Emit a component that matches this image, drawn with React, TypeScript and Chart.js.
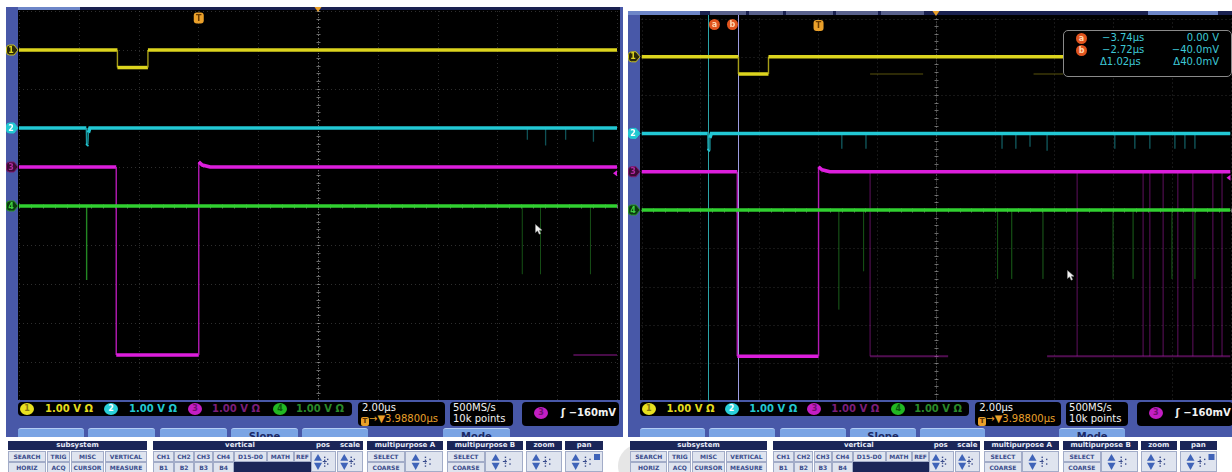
import React, { useEffect, useRef } from "react";
import { Chart, registerables } from "chart.js";

Chart.register(...registerables);

// ---------- acquisition settings (shared by both captures) ----------
const TIME_PER_DIV_US = 2.0;
const TRIGGER_TO_CENTER_US = 3.988;
const H_DIVS = 10;
const V_DIVS = 10;
const T_CENTER = TRIGGER_TO_CENTER_US;
const T_MIN = T_CENTER - (H_DIVS / 2) * TIME_PER_DIV_US;
const T_MAX = T_CENTER + (H_DIVS / 2) * TIME_PER_DIV_US;

const CHANNEL_NAMES = ["1", "2", "3", "4"];
const VOLTS_PER_DIV = [1.0, 1.0, 1.0, 1.0];
const CH_POSITION_DIV = [4, 2, 1, 0];
const TRIGGER_CHANNEL = 2; // CH3
const TRIGGER_LEVEL_V = -0.16;
const SAMPLE_RATE_LABEL = "500MS/s";
const RECORD_LENGTH_LABEL = "10k points";

// ---------- main waveforms: vertices (µs from trigger, volts) ----------
const CH1_TIMES_US = [-2.72, -2.72, -1.7, -1.7];
const CH1_VOLTS = [0, -0.45, -0.45, 0];
const CH2_TIMES_US = [-3.76, -3.75, -3.71, -3.69, -3.64];
const CH2_VOLTS = [0, -0.45, -0.42, -0.12, 0];
const CH3_TIMES_US = [-2.76, -2.76, 0, 0, 0.12, 0.38];
const CH3_VOLTS = [0, -4.82, -4.82, 0.13, 0.05, 0];
const CH4_TIMES_US = [0];
const CH4_VOLTS = [0];

// ---------- first capture: extra glitches ----------
const L_CH2_GLITCH_US = [10.99, 11.6, 12.27, 13.2];
const L_CH2_GLITCH_V = [-0.3, -0.45, -0.3, -0.35];
const L_CH4_GLITCH_US = [-3.75, 10.82, 11.43, 13.1];
const L_CH4_GLITCH_V = [-1.9, -1.75, -1.75, -1.75];
const L_CH3_LOW_FROM_US = [12.53];
const L_CH3_LOW_TO_US = [13.99];

// ---------- second capture: persistence + cursors ----------
const R_CH2_GLITCH_US = [0.79, 1.61, 6.23, 6.7, 7.18, 7.76, 10.06, 10.74, 11.25, 12.1, 12.44, 12.78];
const R_CH2_GLITCH_V = [-0.4, -0.4, -0.4, -0.4, -0.35, -0.45, -0.4, -0.4, -0.4, -0.4, -0.4, -0.4];
const R_CH4_GLITCH_US = [0.69, 1.53, 6.08, 6.56, 7.62, 10.0, 10.68, 12.0, 12.78];
const R_CH4_GLITCH_V = [-2.6, -1.6, -1.8, -1.8, -1.8, -1.8, -1.8, -1.8, -1.8];
const R_CH3_EDGE_US = [1.75, 8.78, 11.02, 11.25, 11.7, 12.2, 12.71, 13.39, 13.7];
const R_CH3_LOW_FROM_US = [1.75, 7.76];
const R_CH3_LOW_TO_US = [4.4, 13.99];
const R_CH1_DIP_FROM_US = [1.75, 7.3];
const R_CH1_DIP_TO_US = [3.55, 8.3];

const CURSOR_NAMES = ["a", "b"];
const CURSOR_TIMES_US = [-3.74, -2.72];
const CURSOR_VOLTS = [0.0, -0.04];

// ---------- colours ----------
const CH_COLOR = ["#dcd41e", "#22c8d4", "#dc1edc", "#30d030"];
const CH_EDGE = ["#a69e18", "#1a9aa2", "#b41ab4", "#24a424"];
const CH_TEXT = ["#e4dc1e", "#22c8d2", "#7c1e7a", "#2a8a2a"];
const BADGE_FILL = ["#e8e020", "#2ad0da", "#c41ec4", "#22b822"];
const BADGE_TEXT = ["#8a7a10", "#ffffff", "#701070", "#0a5a0a"];
const TAG_FILL = ["#2a280a", "#22c8d2", "#3a0b33", "#0b3a10"];
const TAG_EDGE = ["#c8c020", "#22c8d2", "#801a70", "#2a9a2a"];
const TAG_TEXT = ["#e0d820", "#ffffff", "#b02aa0", "#40d040"];
const CURSOR_COLOR = ["#2aa4a8", "#9c9ce0"];
const ORANGE = "#eaa02a";
const FRAME_BLUE = "#4858a8";
const NAVY = "#1b2658";
const BTN_BG = "#dfe4ef";
const BTN_TX = "#3a4c8c";
const FONT = "'DejaVu Sans', sans-serif";

type Pt = { x: number; y: number | null };

const toDiv = (ch: number, v: number) => CH_POSITION_DIV[ch] + v / VOLTS_PER_DIV[ch];

function stepTrace(ch: number, times: number[], volts: number[]): Pt[] {
  const pts: Pt[] = [{ x: T_MIN, y: toDiv(ch, volts[0]) }];
  times.forEach((t, i) => pts.push({ x: t, y: toDiv(ch, volts[i]) }));
  pts.push({ x: T_MAX, y: toDiv(ch, volts[volts.length - 1]) });
  return pts;
}

function spikes(ch: number, times: number[], depths: number[]): Pt[] {
  const out: Pt[] = [];
  times.forEach((t, i) => {
    out.push({ x: t, y: toDiv(ch, 0) }, { x: t, y: toDiv(ch, depths[i]) }, { x: t, y: null });
  });
  return out;
}

function spans(ch: number, from: number[], to: number[], v: number): Pt[] {
  const out: Pt[] = [];
  from.forEach((f, i) => {
    out.push({ x: f, y: toDiv(ch, v) }, { x: to[i], y: toDiv(ch, v) }, { x: to[i], y: null });
  });
  return out;
}

function traceDataset(ch: number, data: Pt[]) {
  return {
    data,
    borderColor: CH_COLOR[ch],
    borderWidth: 3.5,
    pointRadius: 0,
    tension: 0,
    segment: {
      borderWidth: (c: any) => (Math.abs(c.p0.x - c.p1.x) < 1 ? 1.4 : 3.5),
      borderColor: (c: any) => (Math.abs(c.p0.x - c.p1.x) < 1 ? CH_EDGE[ch] : CH_COLOR[ch]),
    },
  };
}

function faintDataset(data: Pt[], color: string, width: number) {
  return { data, borderColor: color, borderWidth: width, pointRadius: 0, tension: 0, spanGaps: false };
}

const LOW_LEVEL_CH3 = CH3_VOLTS[1];
const DIP_LEVEL_CH1 = CH1_VOLTS[1];

// first dataset is drawn on top
function leftDatasets() {
  return [
    traceDataset(3, stepTrace(3, CH4_TIMES_US, CH4_VOLTS)),
    traceDataset(0, stepTrace(0, CH1_TIMES_US, CH1_VOLTS)),
    traceDataset(1, stepTrace(1, CH2_TIMES_US, CH2_VOLTS)),
    traceDataset(2, stepTrace(2, CH3_TIMES_US, CH3_VOLTS)),
    faintDataset(spikes(1, L_CH2_GLITCH_US, L_CH2_GLITCH_V), "rgba(34,180,190,0.45)", 1.3),
    faintDataset(spikes(3, L_CH4_GLITCH_US.slice(0, 1), L_CH4_GLITCH_V.slice(0, 1)), "rgba(44,170,44,0.8)", 1.4),
    faintDataset(spikes(3, L_CH4_GLITCH_US.slice(1), L_CH4_GLITCH_V.slice(1)), "rgba(44,150,44,0.22)", 1),
    faintDataset(spans(2, L_CH3_LOW_FROM_US, L_CH3_LOW_TO_US, LOW_LEVEL_CH3), "rgba(180,30,180,0.4)", 2),
  ];
}

function rightDatasets() {
  return [
    traceDataset(3, stepTrace(3, CH4_TIMES_US, CH4_VOLTS)),
    traceDataset(0, stepTrace(0, CH1_TIMES_US, CH1_VOLTS)),
    traceDataset(1, stepTrace(1, CH2_TIMES_US, CH2_VOLTS)),
    traceDataset(2, stepTrace(2, CH3_TIMES_US, CH3_VOLTS)),
    faintDataset(spikes(1, R_CH2_GLITCH_US, R_CH2_GLITCH_V), "rgba(34,180,190,0.5)", 1.3),
    faintDataset(spikes(3, R_CH4_GLITCH_US, R_CH4_GLITCH_V), "rgba(44,150,44,0.25)", 1),
    faintDataset(spikes(2, R_CH3_EDGE_US, R_CH3_EDGE_US.map(() => LOW_LEVEL_CH3)), "rgba(170,30,170,0.22)", 1),
    faintDataset(spans(2, R_CH3_LOW_FROM_US, R_CH3_LOW_TO_US, LOW_LEVEL_CH3), "rgba(180,30,180,0.45)", 2),
    faintDataset(spans(0, R_CH1_DIP_FROM_US, R_CH1_DIP_TO_US, DIP_LEVEL_CH1), "rgba(150,142,20,0.4)", 1.5),
  ];
}

type Rect = { x: number; y: number; w: number; h: number };
type PanelSpec = {
  id: string;
  canvas: Rect;
  pad: { left: number; right: number; top: number; bottom: number };
  black: Rect; // canvas coordinates
  topBar: [number, number, string][];
  cursors: boolean;
  datasets: () => any[];
};

const LEFT_SPEC: PanelSpec = {
  id: "left",
  canvas: { x: 6, y: 7, w: 617, h: 394 },
  pad: { left: 13, right: 6, top: 4, bottom: 0 },
  black: { x: 12, y: 3, w: 602, h: 390 },
  topBar: [[12, 614, "#1a2150"], [12, 74, "#6d86c8"]],
  cursors: false,
  datasets: leftDatasets,
};

const RIGHT_SPEC: PanelSpec = {
  id: "right",
  canvas: { x: 628, y: 11, w: 604, h: 391 },
  pad: { left: 13.5, right: 1.5, top: 7.5, bottom: 0.5 },
  black: { x: 12, y: 4, w: 592, h: 385 },
  topBar: [
    [12, 604, "#1a2150"], [0, 72, "#6d86c8"], [82, 118, "#59618c"], [121, 155, "#59618c"],
    [158, 205, "#59618c"], [208, 250, "#59618c"], [253, 296, "#59618c"], [520, 590, "#6d86c8"],
  ],
  cursors: true,
  datasets: rightDatasets,
};

function tagPath(ctx: CanvasRenderingContext2D, x0: number, x1: number, y: number) {
  const h = 5;
  ctx.beginPath();
  ctx.moveTo(x0 + 3, y - h);
  ctx.lineTo(x1 - 4, y - h);
  ctx.lineTo(x1, y);
  ctx.lineTo(x1 - 4, y + h);
  ctx.lineTo(x0 + 3, y + h);
  ctx.quadraticCurveTo(x0, y + h, x0, y + h - 3);
  ctx.lineTo(x0, y - h + 3);
  ctx.quadraticCurveTo(x0, y - h, x0 + 3, y - h);
  ctx.closePath();
}

function screenPlugin(spec: PanelSpec) {
  return {
    id: "screen_" + spec.id,
    beforeDraw(chart: any) {
      const ctx: CanvasRenderingContext2D = chart.ctx;
      const b = spec.black;
      ctx.save();
      ctx.fillStyle = "#000";
      ctx.fillRect(b.x, b.y, b.w, b.h);
      spec.topBar.forEach(([x0, x1, c]) => {
        ctx.fillStyle = c;
        ctx.fillRect(x0, 0, x1 - x0, b.y);
      });
      ctx.restore();
    },
    beforeDatasetsDraw(chart: any) {
      const ctx: CanvasRenderingContext2D = chart.ctx;
      const a = chart.chartArea;
      const xs = chart.scales.x;
      const ys = chart.scales.y;
      ctx.save();
      ctx.lineWidth = 1;
      ctx.strokeStyle = "rgba(110,110,110,0.42)";
      ctx.setLineDash([1, 3]);
      for (let i = 0; i <= H_DIVS; i++) {
        const px = Math.round(xs.getPixelForValue(T_MIN + i * TIME_PER_DIV_US)) + 0.5;
        ctx.beginPath();
        ctx.moveTo(px, a.top);
        ctx.lineTo(px, a.bottom);
        ctx.stroke();
      }
      for (let j = 0; j <= V_DIVS; j++) {
        const py = Math.round(ys.getPixelForValue(-V_DIVS / 2 + j)) + 0.5;
        ctx.beginPath();
        ctx.moveTo(a.left, py);
        ctx.lineTo(a.right, py);
        ctx.stroke();
      }
      // centre axes with minor ticks
      const cx = Math.round(xs.getPixelForValue(T_CENTER)) + 0.5;
      const cy = Math.round(ys.getPixelForValue(0)) + 0.5;
      ctx.strokeStyle = "rgba(160,160,160,0.65)";
      ctx.setLineDash([1, 2]);
      ctx.beginPath();
      ctx.moveTo(cx, a.top);
      ctx.lineTo(cx, a.bottom);
      ctx.moveTo(a.left, cy);
      ctx.lineTo(a.right, cy);
      ctx.stroke();
      ctx.setLineDash([]);
      ctx.beginPath();
      for (let k = 0; k <= H_DIVS * 5; k++) {
        const px = Math.round(xs.getPixelForValue(T_MIN + (k * TIME_PER_DIV_US) / 5)) + 0.5;
        ctx.moveTo(px, cy - 2);
        ctx.lineTo(px, cy + 2);
      }
      for (let k = 0; k <= V_DIVS * 5; k++) {
        const py = Math.round(ys.getPixelForValue(-V_DIVS / 2 + k / 5)) + 0.5;
        ctx.moveTo(cx - 2, py);
        ctx.lineTo(cx + 2, py);
      }
      ctx.stroke();
      // vertical bar cursors
      if (spec.cursors) {
        CURSOR_TIMES_US.forEach((t, i) => {
          const px = Math.round(xs.getPixelForValue(t)) + 0.5;
          ctx.strokeStyle = CURSOR_COLOR[i];
          ctx.lineWidth = 1;
          ctx.beginPath();
          ctx.moveTo(px, spec.black.y);
          ctx.lineTo(px, a.bottom);
          ctx.stroke();
        });
      }
      ctx.restore();
    },
    afterDatasetsDraw(chart: any) {
      const ctx: CanvasRenderingContext2D = chart.ctx;
      const a = chart.chartArea;
      const xs = chart.scales.x;
      const ys = chart.scales.y;
      ctx.save();
      ctx.textAlign = "center";
      ctx.textBaseline = "middle";
      // ground level tags
      CHANNEL_NAMES.forEach((n, ch) => {
        const y = ys.getPixelForValue(CH_POSITION_DIV[ch]);
        tagPath(ctx, 0.5, spec.black.x, y);
        ctx.fillStyle = TAG_FILL[ch];
        ctx.fill();
        ctx.strokeStyle = TAG_EDGE[ch];
        ctx.lineWidth = 1;
        ctx.stroke();
        ctx.fillStyle = TAG_TEXT[ch];
        ctx.font = "bold 8px " + FONT;
        ctx.fillText(n, spec.black.x / 2 - 1, y + 0.5);
      });
      // trigger position marker
      const tx = xs.getPixelForValue(0);
      const ty = a.top + 7;
      ctx.fillStyle = ORANGE;
      ctx.beginPath();
      ctx.roundRect(tx - 5, ty - 5.5, 10, 11, 3);
      ctx.fill();
      ctx.fillStyle = "#6a3a00";
      ctx.font = "bold 8px " + FONT;
      ctx.fillText("T", tx, ty + 0.5);
      // expansion point at screen centre
      const cx = xs.getPixelForValue(T_CENTER);
      ctx.fillStyle = ORANGE;
      ctx.beginPath();
      ctx.moveTo(cx - 3.5, 0);
      ctx.lineTo(cx + 3.5, 0);
      ctx.lineTo(cx, 5);
      ctx.closePath();
      ctx.fill();
      // trigger level arrow on the right edge
      const ly = ys.getPixelForValue(toDiv(TRIGGER_CHANNEL, TRIGGER_LEVEL_V));
      ctx.fillStyle = CH_COLOR[TRIGGER_CHANNEL];
      ctx.beginPath();
      ctx.moveTo(a.right - 4, ly);
      ctx.lineTo(a.right, ly - 3);
      ctx.lineTo(a.right, ly + 3);
      ctx.closePath();
      ctx.fill();
      // cursor labels
      if (spec.cursors) {
        CURSOR_TIMES_US.forEach((t, i) => {
          const px = xs.getPixelForValue(t) + (i === 0 ? 6 : -6);
          const py = a.top + 6;
          ctx.fillStyle = "#e0541e";
          ctx.beginPath();
          ctx.arc(px, py, 5.5, 0, Math.PI * 2);
          ctx.fill();
          ctx.fillStyle = "#ffd6b0";
          ctx.font = "bold 8px " + FONT;
          ctx.fillText(CURSOR_NAMES[i], px, py);
        });
      }
      ctx.restore();
    },
  };
}

function ScopeChart({ spec }: { spec: PanelSpec }) {
  const ref = useRef<HTMLCanvasElement>(null);
  useEffect(() => {
    if (!ref.current) return;
    const chart = new Chart(ref.current, {
      type: "line",
      data: { datasets: spec.datasets() as any },
      options: {
        animation: false,
        responsive: false,
        maintainAspectRatio: false,
        events: [],
        layout: { padding: spec.pad },
        plugins: { legend: { display: false }, tooltip: { enabled: false } },
        scales: {
          x: { type: "linear", display: false, min: T_MIN, max: T_MAX },
          y: { type: "linear", display: false, min: -V_DIVS / 2, max: V_DIVS / 2 },
        },
      },
      plugins: [screenPlugin(spec)],
    } as any);
    return () => chart.destroy();
  }, [spec]);
  const c = spec.canvas;
  return (
    <canvas
      ref={ref}
      width={c.w}
      height={c.h}
      style={{ position: "absolute", left: c.x, top: c.y, width: c.w, height: c.h }}
    />
  );
}

// ---------- DOM parts of the instrument UI ----------
function Abs({ x, y, w, h, style, children }: any) {
  return (
    <div style={{ position: "absolute", left: x, top: y, width: w, height: h, boxSizing: "border-box", ...style }}>
      {children}
    </div>
  );
}

function Badge({ cx, cy, ch }: { cx: number; cy: number; ch: number }) {
  return (
    <Abs
      x={cx - 7}
      y={cy - 6}
      w={14}
      h={12}
      style={{
        borderRadius: "50%",
        background: BADGE_FILL[ch],
        color: BADGE_TEXT[ch],
        font: "bold 8px " + FONT,
        lineHeight: "12px",
        textAlign: "center",
      }}
    >
      {CHANNEL_NAMES[ch]}
    </Abs>
  );
}

const fmtTime = (t: number) => (t < 0 ? "\u2212" : "") + Math.abs(t).toFixed(2) + "\u00b5s";
const fmtVolt = (v: number) =>
  v === 0 ? "0.00 V" : (v < 0 ? "\u2212" : "") + (Math.abs(v) * 1000).toFixed(1) + "mV";
const fmtTrigLevel = (v: number) => (v < 0 ? "\u2212" : "") + Math.round(Math.abs(v) * 1000) + "mV";

type Console = { X: (x: number) => number };

const SUBSYSTEM_R1 = ["SEARCH", "TRIG", "MISC", "VERTICAL"];
const SUBSYSTEM_R2 = ["HORIZ", "ACQ", "CURSOR", "MEASURE"];
const VERTICAL_R1 = ["CH1", "CH2", "CH3", "CH4", "D15-D0", "MATH", "REF"];
const VERTICAL_R2 = ["B1", "B2", "B3", "B4"];

function Cell({ X, x0, x1, y, h, label, navy }: any) {
  return (
    <Abs
      x={X(x0)}
      y={y}
      w={X(x1) - X(x0)}
      h={h}
      style={{
        background: navy ? NAVY : BTN_BG,
        border: navy ? "none" : "1px solid #a2acc8",
        color: BTN_TX,
        font: "bold 6px " + FONT,
        lineHeight: h - 2 + "px",
        textAlign: "center",
        whiteSpace: "nowrap",
        overflow: "hidden",
      }}
    >
      {label}
    </Abs>
  );
}

function Header({ X, x0, x1, children }: any) {
  return (
    <Abs
      x={X(x0)}
      y={441}
      w={X(x1) - X(x0)}
      h={9}
      style={{ background: NAVY, color: "#e8ecf8", font: "bold 7px " + FONT, lineHeight: "9px", textAlign: "center", whiteSpace: "nowrap" }}
    >
      {children}
    </Abs>
  );
}

function ArrowPad({ X, x0, x1, square }: any) {
  const x = X(x0);
  const w = X(x1) - X(x0);
  const h = 21;
  const ax = w * 0.28;
  return (
    <Abs x={x} y={451} w={w} h={h} style={{ background: BTN_BG, border: "1px solid #a2acc8" }}>
      <svg width={w} height={h} style={{ position: "absolute", left: -1, top: -1 }}>
        <polygon points={`${ax - 4},${h * 0.46} ${ax + 4},${h * 0.46} ${ax},${h * 0.14}`} fill="#3f63b8" />
        <polygon points={`${ax - 4},${h * 0.56} ${ax + 4},${h * 0.56} ${ax},${h * 0.9}`} fill="#3f63b8" />
        {[0.3, 0.44, 0.58, 0.72].map((f) => (
          <rect key={f} x={w * 0.52} y={h * f - 0.7} width={1.4} height={1.4} fill="#3a4c8c" />
        ))}
        {[0.4, 0.62].map((f) => (
          <rect key={f} x={w * 0.64} y={h * f - 0.7} width={1.4} height={1.4} fill="#3a4c8c" />
        ))}
        <rect x={w * 0.47} y={h * 0.5 - 0.5} width={4} height={1} fill="#3a4c8c" />
        {square ? <rect x={w - 9} y={3} width={6} height={6} fill="#3f63b8" /> : null}
      </svg>
    </Abs>
  );
}

function Panel({ X }: Console) {
  const chBadge = [27, 111, 195, 280];
  const chText = [45, 129, 212, 296];
  const tabs: [number, number, string][] = [
    [18, 84, ""], [88, 155, ""], [160, 227, ""], [231, 298, "Slope"], [302, 368, ""], [443, 510, "Mode"],
  ];
  const sub = [[8, 46], [47, 70], [71, 104], [105, 147]];
  const vert = [[153, 174], [174, 194], [194, 213], [213, 234], [234, 267], [267, 294], [294, 311]];
  const textBase = { position: "absolute" as const, whiteSpace: "nowrap" as const };
  return (
    <>
      {/* status row */}
      <Abs x={X(18)} y={402} w={X(352) - X(18)} h={14} style={{ background: "#000", borderRadius: 4 }} />
      {CHANNEL_NAMES.map((n, i) => (
        <React.Fragment key={n}>
          <Badge cx={X(chBadge[i])} cy={409} ch={i} />
          <div style={{ ...textBase, left: X(chText[i]), top: 402, color: CH_TEXT[i], font: "bold 10px " + FONT, lineHeight: "14px" }}>
            {VOLTS_PER_DIV[i].toFixed(2)} V {"\u03a9"}
          </div>
        </React.Fragment>
      ))}
      <Abs x={X(358)} y={402} w={X(445) - X(358)} h={24} style={{ background: "#000", borderRadius: 4 }} />
      <div style={{ ...textBase, left: X(362), top: 402, color: "#f2f2f2", font: "10px " + FONT, lineHeight: "11px" }}>
        {TIME_PER_DIV_US.toFixed(2)}
        {"\u00b5s"}
      </div>
      <div style={{ ...textBase, left: X(361), top: 413, color: ORANGE, font: "10px " + FONT, lineHeight: "12px" }}>
        <span style={{ display: "inline-block", width: 8, height: 9, background: ORANGE, color: "#5a3000", font: "bold 7px " + FONT, lineHeight: "9px", textAlign: "center", borderRadius: 2, verticalAlign: "-1px" }}>T</span>
        {"\u2192\u25bc"}
        {TRIGGER_TO_CENTER_US.toFixed(5)}
        {"\u00b5s"}
      </div>
      <Abs x={X(450)} y={402} w={X(513) - X(450)} h={24} style={{ background: "#000", borderRadius: 4 }} />
      <div style={{ ...textBase, left: X(453), top: 402, color: "#f2f2f2", font: "10px " + FONT, lineHeight: "11px" }}>
        {SAMPLE_RATE_LABEL}
      </div>
      <div style={{ ...textBase, left: X(453), top: 413, color: "#f2f2f2", font: "10px " + FONT, lineHeight: "12px" }}>
        {RECORD_LENGTH_LABEL}
      </div>
      <Abs x={X(522)} y={402} w={X(619) - X(522)} h={24} style={{ background: "#000", borderRadius: 4 }} />
      <Badge cx={X(541)} cy={413} ch={TRIGGER_CHANNEL} />
      <div style={{ ...textBase, left: X(561), top: 407, color: "#f2f2f2", font: "bold 10px " + FONT, lineHeight: "12px" }}>
        {"\u0283 "}
        {fmtTrigLevel(TRIGGER_LEVEL_V)}
      </div>
      {/* soft-key tabs, cut by the bezel */}
      {tabs.map(([a, b, label]) => (
        <Abs
          key={a}
          x={X(a)}
          y={428}
          w={X(b) - X(a)}
          h={9}
          style={{
            background: "#7aa4e4",
            borderTop: "1px solid #b4cdf4",
            borderRadius: "3px 3px 0 0",
            overflow: "hidden",
            color: "#1c2a66",
            font: "bold 10px " + FONT,
            textAlign: "center",
            lineHeight: "16px",
          }}
        >
          {label}
        </Abs>
      ))}
      {/* button groups */}
      <Header X={X} x0={8} x1={147}>subsystem</Header>
      {sub.map(([a, b], i) => (
        <React.Fragment key={a}>
          <Cell X={X} x0={a} x1={b} y={451} h={11} label={SUBSYSTEM_R1[i]} />
          <Cell X={X} x0={a} x1={b} y={462} h={11} label={SUBSYSTEM_R2[i]} />
        </React.Fragment>
      ))}
      <Header X={X} x0={153} x1={363}>
        <span style={{ position: "absolute", left: X(240) - X(153) - 15, width: 30 }}>vertical</span>
        <span style={{ position: "absolute", left: X(323) - X(153) - 10, width: 20 }}>pos</span>
        <span style={{ position: "absolute", left: X(350) - X(153) - 12, width: 24 }}>scale</span>
      </Header>
      {vert.map(([a, b], i) => (
        <Cell key={a} X={X} x0={a} x1={b} y={451} h={11} label={VERTICAL_R1[i]} />
      ))}
      {vert.slice(0, 4).map(([a, b], i) => (
        <Cell key={a} X={X} x0={a} x1={b} y={462} h={11} label={VERTICAL_R2[i]} />
      ))}
      <Cell X={X} x0={234} x1={311} y={462} h={11} label="" navy />
      <ArrowPad X={X} x0={311} x1={336} />
      <ArrowPad X={X} x0={337} x1={363} />
      {[
        [367, "multipurpose A"],
        [447, "multipurpose B"],
      ].map(([x0, title]: any) => (
        <React.Fragment key={x0}>
          <Header X={X} x0={x0} x1={x0 + 76}>{title}</Header>
          <Cell X={X} x0={x0} x1={x0 + 38} y={451} h={11} label="SELECT" />
          <Cell X={X} x0={x0} x1={x0 + 38} y={462} h={11} label="COARSE" />
          <ArrowPad X={X} x0={x0 + 38} x1={x0 + 76} />
        </React.Fragment>
      ))}
      <Header X={X} x0={526} x1={562}>zoom</Header>
      <ArrowPad X={X} x0={526} x1={562} />
      <Header X={X} x0={565} x1={603}>pan</Header>
      <ArrowPad X={X} x0={565} x1={603} square />
    </>
  );
}

function CursorReadout() {
  const rowY = [1, 13, 25];
  const txt = { position: "absolute" as const, color: "#3ec8d6", font: "10px " + FONT, lineHeight: "12px", whiteSpace: "nowrap" as const };
  const dt = CURSOR_TIMES_US[1] - CURSOR_TIMES_US[0];
  const dv = Math.abs(CURSOR_VOLTS[1] - CURSOR_VOLTS[0]);
  return (
    <Abs x={1063} y={30} w={169} h={47} style={{ background: "#000", border: "1.5px solid #8a8a8a", borderRadius: 5 }}>
      {CURSOR_NAMES.map((n, i) => (
        <React.Fragment key={n}>
          <div
            style={{
              position: "absolute", left: 12, top: rowY[i] + 0.5, width: 11, height: 11, borderRadius: "50%",
              background: "#e0541e", color: "#ffd6b0", font: "bold 8px " + FONT, lineHeight: "11px", textAlign: "center",
            }}
          >
            {n}
          </div>
          <div style={{ ...txt, left: 38, top: rowY[i] }}>{fmtTime(CURSOR_TIMES_US[i])}</div>
          <div style={{ ...txt, right: 12, top: rowY[i], textAlign: "right" }}>{fmtVolt(CURSOR_VOLTS[i])}</div>
        </React.Fragment>
      ))}
      <div style={{ ...txt, left: 36, top: rowY[2] }}>{"\u0394" + dt.toFixed(2) + "\u00b5s"}</div>
      <div style={{ ...txt, right: 12, top: rowY[2], textAlign: "right" }}>{"\u0394" + fmtVolt(dv).replace("\u2212", "")}</div>
    </Abs>
  );
}

function Pointer({ x, y }: { x: number; y: number }) {
  return (
    <svg style={{ position: "absolute", left: x, top: y }} width="8" height="11" viewBox="0 0 8 11">
      <path d="M0.5 0.5 L0.5 8.5 L2.6 6.7 L4.2 10.2 L5.6 9.6 L4.1 6.2 L7 6.2 Z" fill="#f2f2f2" stroke="#9a9a9a" strokeWidth="0.5" />
    </svg>
  );
}

const rightX = (x: number) => 622.1 + 0.9866 * x;
const leftX = (x: number) => x;

export default function App() {
  return (
    <div
      style={{
        position: "fixed", left: 0, top: 0, width: 1232, height: 472, background: "#ffffff",
        overflow: "hidden", fontFamily: FONT,
      }}
    >
      <div style={{ position: "absolute", left: 618, top: 444, width: 44, height: 44, borderRadius: "50%", background: "#e6e6e6" }} />
      <Abs x={6} y={7} w={617} h={430} style={{ background: FRAME_BLUE }} />
      <Abs x={628} y={11} w={604} h={426} style={{ background: FRAME_BLUE }} />
      <ScopeChart spec={LEFT_SPEC} />
      <ScopeChart spec={RIGHT_SPEC} />
      <Panel X={leftX} />
      <Panel X={rightX} />
      <CursorReadout />
      <Pointer x={535} y={224} />
      <Pointer x={1067} y={270} />
    </div>
  );
}
